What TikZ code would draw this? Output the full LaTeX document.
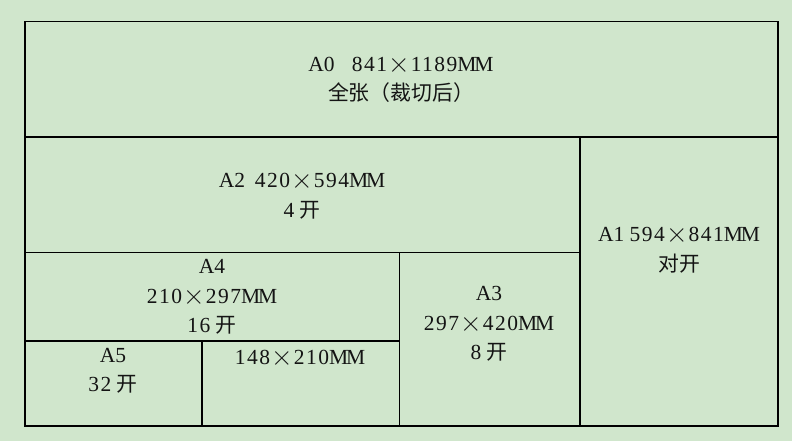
\documentclass[tikz,border=0pt]{standalone}
\usepackage{fontspec}
\setmainfont{Liberation Serif}
\newfontfamily\cjk{Noto Sans CJK SC}[Scale=0.97]
\newfontfamily\cjkx{Noto Sans CJK SC Light}[Scale=1.0]
\definecolor{bg}{RGB}{208,230,204}
\definecolor{ink}{RGB}{20,20,20}
\newcommand{\tms}{{\hspace{0.05em}\raisebox{-0.1em}{\cjkx ×}\hspace{0.05em}}}
\newcommand{\ds}[1]{{\addfontfeature{LetterSpace=7}#1}}
\newcommand{\mm}{M\kern-0.1emM}
\begin{document}
\begin{tikzpicture}[x=1pt,y=-1pt,
  lbl/.style={align=center,font=\fontsize{21.5}{29.5}\selectfont,text=ink,inner sep=0pt},
  wall/.style={draw=black,line width=1.2pt}]
\fill[bg] (0,0) rectangle (792,441);
\useasboundingbox (0,0) rectangle (792,441);
\draw[wall] (25,21.5) rectangle (778,426);
\draw[wall] (25,137) -- (778,137);
\draw[wall] (580,137) -- (580,426);
\draw[wall] (25,252.5) -- (580,252.5);
\draw[wall] (399.5,252.5) -- (399.5,426);
\draw[wall] (25,341) -- (399.5,341);
\draw[wall] (202,341) -- (202,426);
\node[lbl] (a0) at (401,80) {A\ds{0}\hspace{0.8em}\ds{841}\tms\ds{1189}\mm\\{\cjk 全张（裁切后）}};
\node[lbl] (a2) at (302,196) {A\ds{2}\hspace{0.45em}\ds{420}\tms\ds{594}\mm\\\ds{4} {\cjk 开}};
\node[lbl] (a1) at (679,250) {A\ds{1} \ds{594}\tms\ds{841}\mm\\{\cjk 对开}};
\node[lbl] (a4) at (212,297) {A\ds{4}\\\ds{210}\tms\ds{297}\mm\\\ds{16} {\cjk 开}};
\node[lbl] (a3) at (489,324) {A\ds{3}\\\ds{297}\tms\ds{420}\mm\\\ds{8} {\cjk 开}};
\node[lbl] (a5) at (113,371) {A\ds{5}\\\ds{32} {\cjk 开}};
\node[lbl] (a6) at (300,358) {\ds{148}\tms\ds{210}\mm};
\end{tikzpicture}
\end{document}
